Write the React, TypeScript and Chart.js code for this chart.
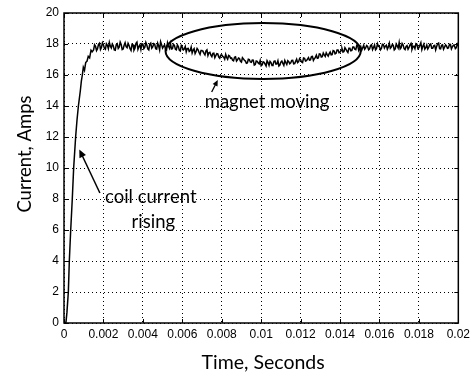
import { useEffect, useRef } from "react";
import { Chart, registerables } from "chart.js";

Chart.register(...registerables);

// ---- data ----
const riseTimes = [0, 0.0001, 0.00015, 0.00022, 0.00027, 0.00034, 0.00042, 0.00049, 0.00059, 0.00066, 0.00073, 0.00083, 0.00088, 0.00093, 0.00098, 0.00104, 0.0011, 0.00117, 0.00123, 0.0013, 0.00137, 0.00143];
const riseCurrents = [0, 0.05, 0.7, 2.0, 4.0, 6.0, 8.0, 10.0, 12.0, 13.1, 14.0, 15.0, 15.6, 16.0, 16.5, 16.3, 16.8, 16.9, 17.2, 17.1, 17.6, 17.5];

// samples every 0.1 ms starting at 1.5 ms
const plateauStart = 0.0015;
const plateauStep = 0.0001;
const plateauCurrents = [
  17.62, 17.85, 17.70, 18.05, 17.78, 17.95, 17.66, 17.92, 18.10, 17.74,
  17.88, 17.60, 18.02, 17.80, 17.97, 17.68, 18.08, 17.76, 17.90, 17.58,
  17.95, 17.72, 18.12, 17.84, 17.65, 18.00, 17.79, 17.93, 17.62, 18.06,
  17.81, 17.98, 17.67, 17.89, 18.15, 17.73, 17.94, 17.61, 17.87, 18.03,
  17.70, 17.91, 17.62, 17.84, 17.55, 17.80, 17.68, 17.49, 17.72, 17.58,
  17.42, 17.70, 17.51, 17.63, 17.33, 17.58, 17.40, 17.55, 17.26, 17.47,
  17.18, 17.41, 17.25, 17.36, 17.08, 17.30, 17.15, 17.33, 17.02, 17.22,
  17.10, 16.92, 17.18, 16.98, 17.06, 16.83, 17.04, 16.90, 16.78, 17.00,
  16.82, 16.95, 16.68, 16.88, 16.72, 16.60, 16.85, 16.70, 16.92, 16.62,
  16.80, 16.66, 16.90, 16.72, 16.58, 16.83, 16.75, 16.94, 16.68, 16.86,
  16.78, 16.95, 16.74, 17.02, 16.86, 16.98, 16.80, 17.08, 16.92, 17.12,
  16.98, 17.20, 17.05, 17.28, 17.10, 17.35, 17.18, 17.30, 17.44, 17.22,
  17.48, 17.32, 17.55, 17.40, 17.62, 17.47, 17.70, 17.52, 17.66, 17.45,
  17.72, 17.58, 17.80, 17.63, 17.88, 17.70, 17.60, 17.92, 17.75, 17.84,
  17.68, 17.95, 17.78, 17.62, 18.02, 17.82, 17.71, 17.96, 17.86, 17.66,
  18.05, 17.80, 17.92, 17.69, 17.88, 18.10, 17.76, 17.94, 17.64, 17.90,
  17.78, 18.04, 17.83, 17.70, 17.98, 17.75, 18.08, 17.85, 17.67, 17.93,
  17.80, 18.00, 17.72, 17.91, 17.84, 18.06, 17.69, 17.95, 17.79, 17.87,
  17.74, 17.97, 17.82, 17.90, 17.76, 17.88,
];
// interleaved samples, offset by half a step (1.55 ms, 1.65 ms, ...)
const halfStepCurrents = [
  17.95, 17.58, 17.98, 17.65, 18.08, 17.72, 18.02, 17.70, 17.86, 18.00,
  17.62, 17.96, 17.71, 18.12, 17.64, 17.92, 17.83, 18.04, 17.69, 17.98,
  17.60, 18.04, 17.66, 17.95, 18.02, 17.70, 18.10, 17.68, 17.99, 17.73,
  18.02, 17.70, 18.06, 17.62, 17.96, 17.84, 17.66, 18.08, 17.72, 17.68,
  17.98, 17.66, 17.95, 17.60, 17.90, 17.62, 17.84, 17.70, 17.52, 17.80,
  17.60, 17.38, 17.72, 17.45, 17.58, 17.52, 17.30, 17.62, 17.44, 17.28,
  17.40, 17.12, 17.38, 17.16, 17.28, 17.20, 17.02, 17.14, 17.26, 17.08,
  16.96, 17.15, 16.90, 17.10, 16.88, 17.12, 16.95, 16.76, 17.02, 16.84,
  16.96, 16.64, 16.90, 16.78, 16.94, 16.66, 16.82, 16.58, 16.80, 16.88,
  16.62, 16.88, 16.70, 16.92, 16.64, 16.90, 16.62, 16.80, 16.92, 16.72,
  16.94, 16.72, 16.88, 16.80, 17.06, 16.84, 17.10, 16.90, 17.02, 16.96,
  17.18, 16.94, 17.14, 17.08, 17.36, 17.16, 17.42, 17.20, 17.32, 17.38,
  17.30, 17.58, 17.36, 17.62, 17.44, 17.58, 17.48, 17.76, 17.54, 17.72,
  17.56, 17.80, 17.66, 17.92, 17.58, 17.84, 17.76, 17.66, 17.90, 17.62,
  17.90, 17.64, 17.94, 17.70, 17.86, 17.62, 17.98, 17.74, 17.92, 17.80,
  17.72, 17.96, 17.62, 18.00, 17.74, 17.68, 18.04, 17.70, 17.84, 17.66,
  17.95, 17.66, 17.86, 18.02, 17.70, 17.92, 17.64, 17.99, 17.76, 17.68,
  17.96, 17.72, 17.88, 17.62, 18.02, 17.70, 17.92, 17.66, 17.94, 17.72,
  17.98, 17.68, 17.92, 17.70, 18.00,
];

const xTickValues = [0, 0.002, 0.004, 0.006, 0.008, 0.01, 0.012, 0.014, 0.016, 0.018, 0.02];
const xTickLabels = ["0", "0.002", "0.004", "0.006", "0.008", "0.01", "0.012", "0.014", "0.016", "0.018", "0.02"];
const yTickValues = [0, 2, 4, 6, 8, 10, 12, 14, 16, 18, 20];
const yTickLabels = ["0", "2", "4", "6", "8", "10", "12", "14", "16", "18", "20"];

const xTitle = "Time, Seconds";
const yTitle = "Current, Amps";
const magnetLabel = "magnet moving";
const coilLabel = ["coil current", "rising"];

// annotation anchors in data units
const ellipseCenter = { x: 0.0101, y: 17.55 };
const ellipseRadius = { x: 0.00495, y: 1.8 };
const magnetArrow = { from: { x: 0.00749, y: 14.9 }, to: { x: 0.0078, y: 15.68 } };
const magnetText = { x: 0.0103, y: 14.26 };
const coilArrow = { from: { x: 0.00182, y: 8.39 }, to: { x: 0.000775, y: 11.2 } };
const coilText = [{ x: 0.0044, y: 8.15 }, { x: 0.00453, y: 6.54 }];

const TITLE_FONT = "Lato, 'Open Sans', sans-serif";
const TICK_FONT = "'Liberation Sans', Arial, sans-serif";

function arrow(ctx: CanvasRenderingContext2D, x1: number, y1: number, x2: number, y2: number, head: number, lw: number) {
  const ang = Math.atan2(y2 - y1, x2 - x1);
  ctx.lineWidth = lw;
  ctx.beginPath();
  ctx.moveTo(x1, y1);
  ctx.lineTo(x2 - Math.cos(ang) * head * 0.6, y2 - Math.sin(ang) * head * 0.6);
  ctx.stroke();
  ctx.beginPath();
  ctx.moveTo(x2, y2);
  ctx.lineTo(x2 - head * Math.cos(ang) + (head * 0.45) * Math.sin(ang), y2 - head * Math.sin(ang) - (head * 0.45) * Math.cos(ang));
  ctx.lineTo(x2 - head * Math.cos(ang) - (head * 0.45) * Math.sin(ang), y2 - head * Math.sin(ang) + (head * 0.45) * Math.cos(ang));
  ctx.closePath();
  ctx.fill();
}

const overlayPlugin = {
  id: "overlay",
  afterDraw(chart: any) {
    const { ctx, chartArea, scales } = chart;
    const { left, right, top, bottom } = chartArea;
    const xs = scales.x;
    const ys = scales.y;
    const px = (v: number) => xs.getPixelForValue(v);
    const py = (v: number) => ys.getPixelForValue(v);
    ctx.save();
    ctx.strokeStyle = "#000";
    ctx.fillStyle = "#000";
    // frame
    ctx.lineWidth = 1.5;
    ctx.strokeRect(left, top, right - left, bottom - top);
    // inward ticks
    ctx.lineWidth = 1;
    const tl = 4;
    ctx.beginPath();
    xTickValues.forEach((v) => {
      const p = Math.round(px(v)) + 0.5;
      ctx.moveTo(p, bottom); ctx.lineTo(p, bottom - tl);
      ctx.moveTo(p, top); ctx.lineTo(p, top + tl);
    });
    yTickValues.forEach((v) => {
      const p = Math.round(py(v)) + 0.5;
      ctx.moveTo(left, p); ctx.lineTo(left + tl, p);
      ctx.moveTo(right, p); ctx.lineTo(right - tl, p);
    });
    ctx.stroke();

    // axis titles
    ctx.font = `19.5px ${TITLE_FONT}`;
    ctx.textAlign = "center";
    ctx.textBaseline = "middle";
    ctx.fillText(xTitle, (left + right) / 2 + 2, 363);
    ctx.save();
    ctx.translate(25, 154);
    ctx.rotate(-Math.PI / 2);
    ctx.font = `18.5px ${TITLE_FONT}`;
    ctx.fillText(yTitle, 0, 0);
    ctx.restore();

    // ellipse
    ctx.lineWidth = 2;
    ctx.beginPath();
    const ecx = px(ellipseCenter.x);
    const ecy = py(ellipseCenter.y);
    const erx = px(ellipseCenter.x + ellipseRadius.x) - ecx;
    const ery = ecy - py(ellipseCenter.y + ellipseRadius.y);
    ctx.ellipse(ecx, ecy, erx, ery, 0, 0, Math.PI * 2);
    ctx.stroke();

    // arrows
    arrow(ctx, px(magnetArrow.from.x), py(magnetArrow.from.y), px(magnetArrow.to.x), py(magnetArrow.to.y), 6, 1.3);
    arrow(ctx, px(coilArrow.from.x), py(coilArrow.from.y), px(coilArrow.to.x), py(coilArrow.to.y), 8, 1.5);

    // annotation text
    ctx.font = `18.5px ${TITLE_FONT}`;
    ctx.textAlign = "center";
    ctx.textBaseline = "middle";
    ctx.fillText(magnetLabel, px(magnetText.x), py(magnetText.y));
    coilLabel.forEach((s, i) => ctx.fillText(s, px(coilText[i].x), py(coilText[i].y)));
    ctx.restore();
  },
};

export default function App() {
  const ref = useRef<HTMLCanvasElement | null>(null);
  useEffect(() => {
    if (!ref.current) return;
    const plateau: { x: number; y: number }[] = [];
    plateauCurrents.forEach((c, i) => {
      plateau.push({ x: plateauStart + i * plateauStep, y: c });
      if (i < halfStepCurrents.length) {
        plateau.push({ x: plateauStart + (i + 0.5) * plateauStep, y: halfStepCurrents[i] });
      }
    });
    const points = [...riseTimes.map((t, i) => ({ x: t, y: riseCurrents[i] })), ...plateau];
    const chart = new Chart(ref.current, {
      type: "line",
      data: {
        datasets: [
          {
            data: points,
            borderColor: "#000",
            borderWidth: 1.5,
            pointRadius: 0,
            tension: 0,
            fill: false,
          },
        ],
      },
      options: {
        animation: false,
        responsive: false,
        events: [],
        layout: { padding: { top: 13, right: 15, left: 0, bottom: 0 } },
        plugins: { legend: { display: false }, tooltip: { enabled: false }, title: { display: false } },
        scales: {
          x: {
            type: "linear",
            min: 0,
            max: 0.02,
            afterBuildTicks: (s: any) => {
              s.ticks = xTickValues.map((v) => ({ value: v }));
            },
            afterFit: (s: any) => {
              s.height = 55;
            },
            ticks: {
              callback: (_v: any, i: number) => xTickLabels[i],
              color: "#000",
              font: { family: TICK_FONT, size: 12 },
              padding: 4,
              maxRotation: 0,
              autoSkip: false,
            },
            grid: { color: "#000", lineWidth: 1, drawTicks: false },
            border: { display: false, dash: [1, 3] },
          },
          y: {
            type: "linear",
            min: 0,
            max: 20,
            afterBuildTicks: (s: any) => {
              s.ticks = yTickValues.map((v) => ({ value: v }));
            },
            afterFit: (s: any) => {
              s.width = 64;
            },
            ticks: {
              callback: (_v: any, i: number) => yTickLabels[i],
              color: "#000",
              font: { family: TICK_FONT, size: 12 },
              padding: 5,
              autoSkip: false,
            },
            grid: { color: "#000", lineWidth: 1, drawTicks: false },
            border: { display: false, dash: [1, 3] },
          },
        },
      },
      plugins: [overlayPlugin],
    });
    return () => chart.destroy();
  }, []);
  return (
    <div style={{ position: "fixed", left: 0, top: 0, width: 474, height: 378, background: "#fff" }}>
      <canvas ref={ref} width={474} height={378} />
    </div>
  );
}
